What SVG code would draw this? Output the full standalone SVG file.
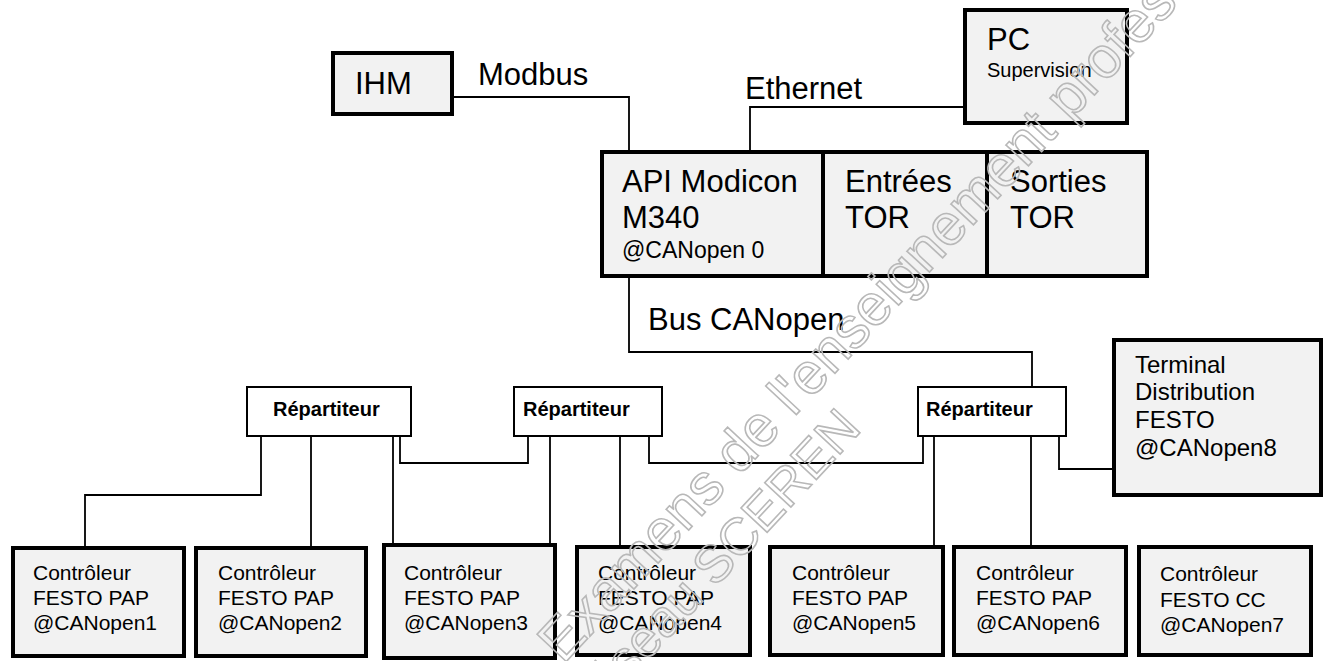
<svg xmlns="http://www.w3.org/2000/svg" width="1325" height="661" viewBox="0 0 1325 661">
<style>
text{font-family:"Liberation Sans",Arial,sans-serif;fill:#000}
.box{fill:#f2f2f2;stroke:#000;stroke-width:4}
.rep{fill:#fff;stroke:#000;stroke-width:2}
.big{font-size:31px}
.ctl{font-size:21px}
.rt{font-size:20px;font-weight:bold}
.wire{fill:none;stroke:#000;stroke-width:1.8}
.wm{font-family:"Liberation Sans",Arial,sans-serif;fill:none;stroke:#b8b8b8;stroke-width:1.6}
</style>
<rect width="1325" height="661" fill="#fff"/>
<g id="connectors">
<path class="wire" d="M454,97 H629 V150"/>
<path class="wire" d="M750,150 V107 H963"/>
<path class="wire" d="M629,278 V352 H1032 V386"/>
<path class="wire" d="M400,437 V463 H528 V437"/>
<path class="wire" d="M649,437 V463 H923 V437"/>
<path class="wire" d="M1059,437 V469 H1112"/>
<path class="wire" d="M261,437 V495 H85 V546"/>
<path class="wire" d="M311,437 V546"/>
<path class="wire" d="M393,437 V543"/>
<path class="wire" d="M550,437 V543"/>
<path class="wire" d="M620,437 V545"/>
<path class="wire" d="M934,437 V545"/>
<path class="wire" d="M1031,437 V545"/>
</g>
<g id="ihm"><rect class="box" x="333" y="53" width="119" height="61"/><text class="big" x="355" y="94">IHM</text></g>
<text id="lbl-modbus" class="big" x="478" y="85">Modbus</text>
<text id="lbl-ethernet" class="big" x="745" y="99">Ethernet</text>
<text id="lbl-bus" class="big" x="648" y="330">Bus CANopen</text>
<g id="pc"><rect class="box" x="965" y="10" width="162" height="113"/><text class="big" x="987" y="50">PC</text><text x="987" y="77" font-size="20">Supervision</text></g>
<g id="api"><rect class="box" x="602" y="152" width="221" height="124"/><text class="big" x="622" y="192">API Modicon</text><text class="big" x="622" y="228">M340</text><text x="622" y="258" font-size="23">@CANopen 0</text></g>
<g id="entrees"><rect class="box" x="823" y="152" width="164" height="124"/><text class="big" x="845" y="192">Entrées</text><text class="big" x="845" y="228">TOR</text></g>
<g id="sorties"><rect class="box" x="987" y="152" width="160" height="124"/><text class="big" x="1010" y="192">Sorties</text><text class="big" x="1010" y="228">TOR</text></g>
<g id="rep1"><rect class="rep" x="247" y="387" width="164" height="49"/><text class="rt" x="273" y="416">Répartiteur</text></g>
<g id="rep2"><rect class="rep" x="514" y="387" width="148" height="49"/><text class="rt" x="523" y="416">Répartiteur</text></g>
<g id="rep3"><rect class="rep" x="918" y="387" width="148" height="49"/><text class="rt" x="926" y="416">Répartiteur</text></g>
<g id="terminal"><rect class="box" x="1114" y="340" width="207" height="155"/>
<text x="1135" y="373" font-size="24">Terminal</text><text x="1135" y="400" font-size="24">Distribution</text><text x="1135" y="428" font-size="24">FESTO</text><text x="1135" y="456" font-size="24">@CANopen8</text></g>
<g id="ctl1"><rect class="box" x="13" y="548" width="171" height="108"/><text class="ctl" x="33" y="580">Contrôleur</text><text class="ctl" x="33" y="605">FESTO PAP</text><text class="ctl" x="33" y="630">@CANopen1</text></g>
<g id="ctl2"><rect class="box" x="196" y="548" width="170" height="108"/><text class="ctl" x="218" y="580">Contrôleur</text><text class="ctl" x="218" y="605">FESTO PAP</text><text class="ctl" x="218" y="630">@CANopen2</text></g>
<g id="ctl3"><rect class="box" x="384" y="545" width="171" height="113"/><text class="ctl" x="404" y="580">Contrôleur</text><text class="ctl" x="404" y="605">FESTO PAP</text><text class="ctl" x="404" y="630">@CANopen3</text></g>
<g id="ctl4"><rect class="box" x="577" y="547" width="173" height="108"/><text class="ctl" x="598" y="580">Contrôleur</text><text class="ctl" x="598" y="605">FESTO PAP</text><text class="ctl" x="598" y="630">@CANopen4</text></g>
<g id="ctl5"><rect class="box" x="770" y="547" width="173" height="108"/><text class="ctl" x="792" y="580">Contrôleur</text><text class="ctl" x="792" y="605">FESTO PAP</text><text class="ctl" x="792" y="630">@CANopen5</text></g>
<g id="ctl6"><rect class="box" x="954" y="547" width="172" height="108"/><text class="ctl" x="976" y="580">Contrôleur</text><text class="ctl" x="976" y="605">FESTO PAP</text><text class="ctl" x="976" y="630">@CANopen6</text></g>
<g id="ctl7"><rect class="box" x="1139" y="547" width="172" height="108"/><text class="ctl" x="1160" y="581">Contrôleur</text><text class="ctl" x="1160" y="607">FESTO CC</text><text class="ctl" x="1160" y="632">@CANopen7</text></g>
<g id="watermark">
<text class="wm" font-size="58" transform="translate(563,665) rotate(-47)">Examens de l'enseignement professionnel</text>
<text class="wm" font-size="52" transform="translate(583,730) rotate(-47)">Réseau SCEREN</text>
</g>
</svg>
